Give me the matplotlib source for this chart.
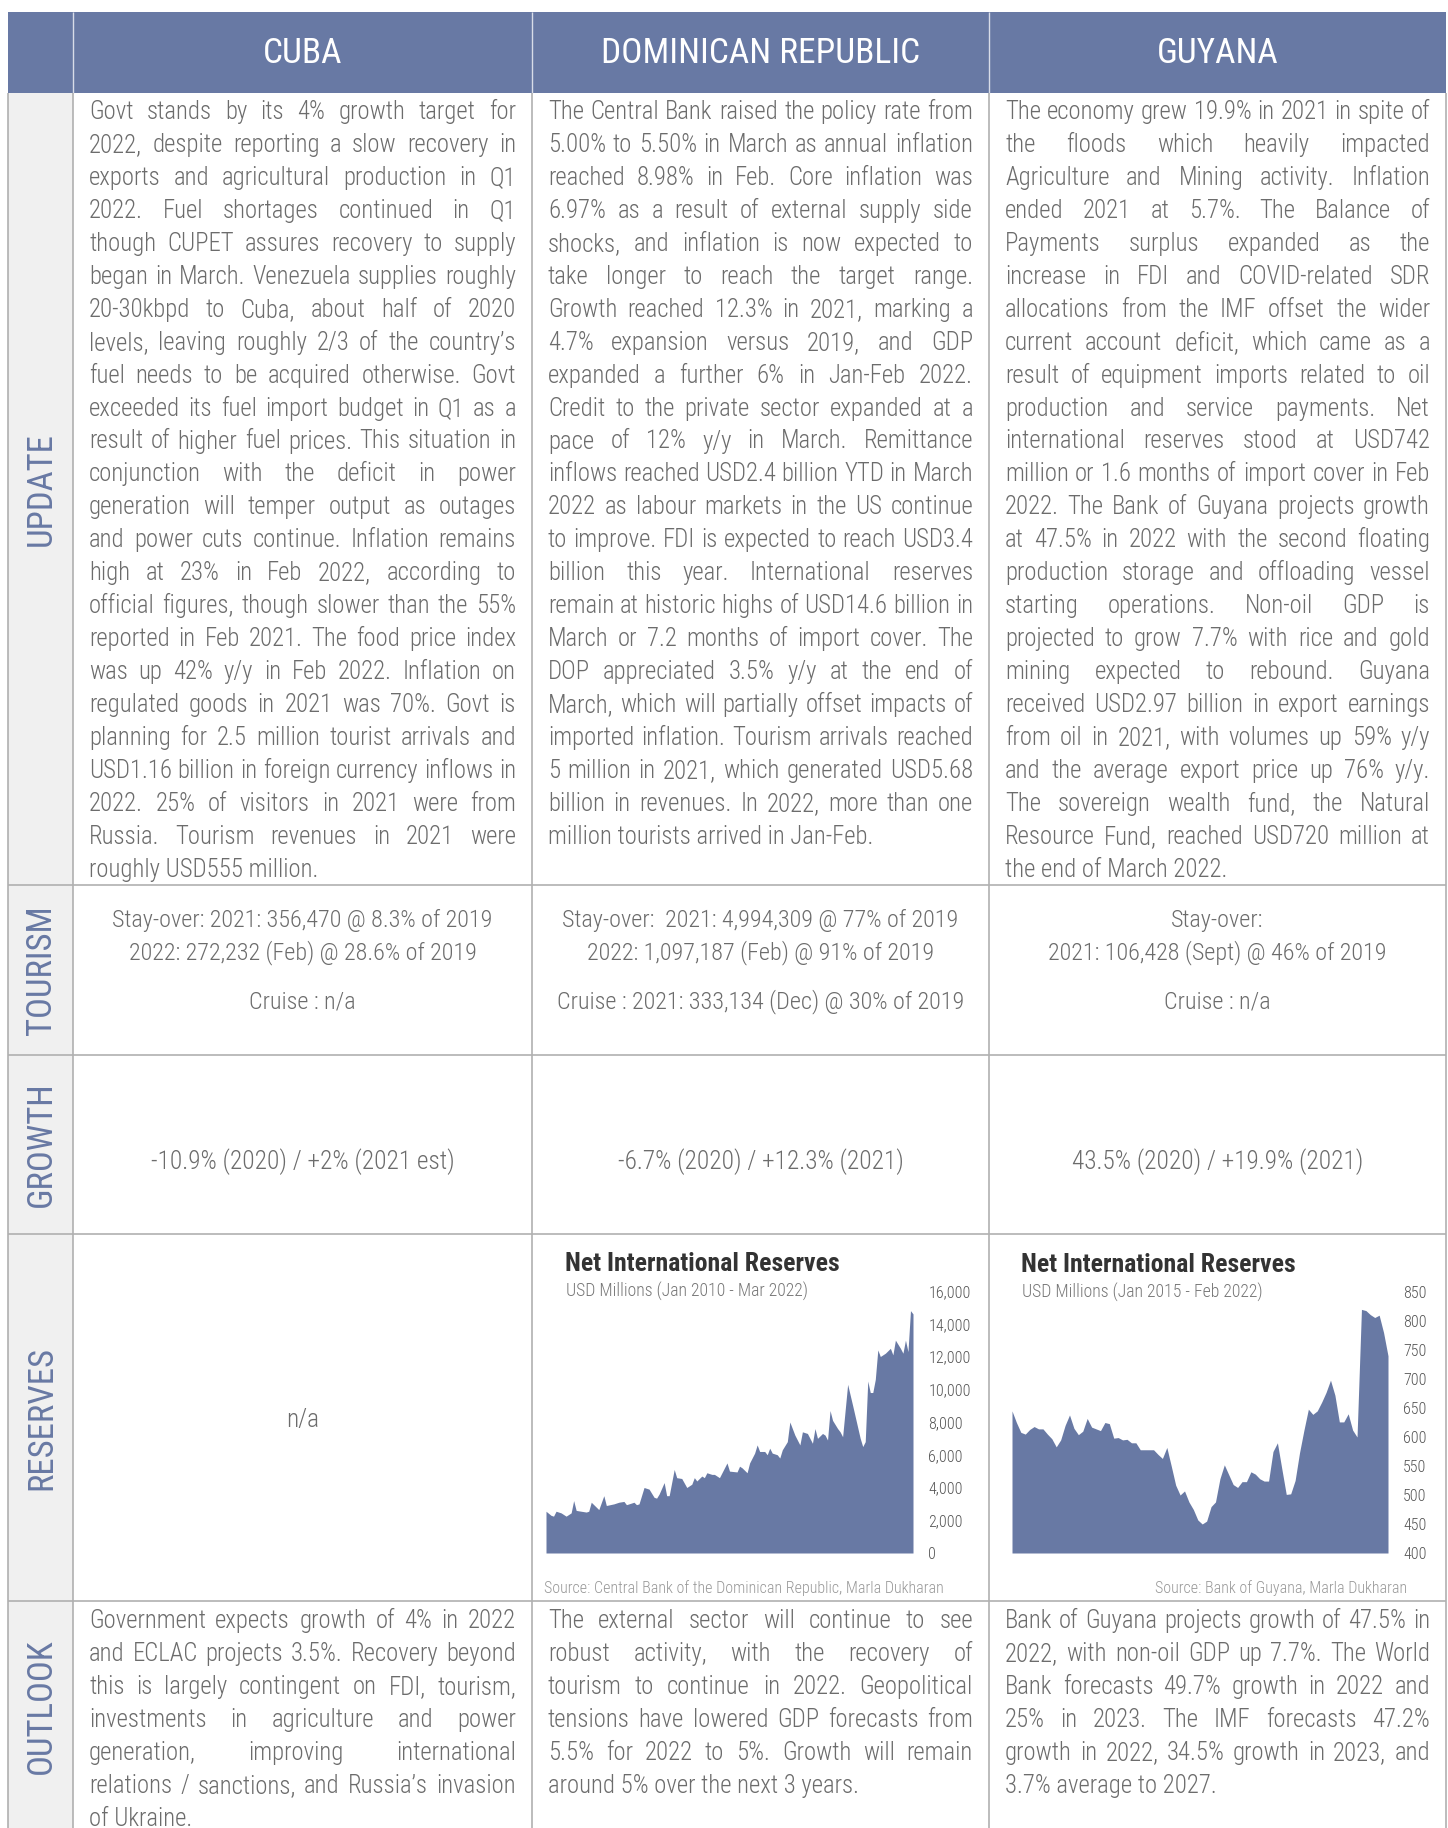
import matplotlib
matplotlib.use("Agg")
import matplotlib.pyplot as plt
from matplotlib.font_manager import FontProperties, fontManager
from matplotlib.patches import Rectangle

# ---- data ----
countries = ["CUBA", "DOMINICAN REPUBLIC", "GUYANA"]
row_labels = ["UPDATE", "TOURISM", "GROWTH", "RESERVES", "OUTLOOK"]

update_cuba = [
    "Govt stands by its 4% growth target for",
    "2022, despite reporting a slow recovery in",
    "exports and agricultural production in Q1",
    "2022. Fuel shortages continued in Q1",
    "though CUPET assures recovery to supply",
    "began in March. Venezuela supplies roughly",
    "20-30kbpd to Cuba, about half of 2020",
    "levels, leaving roughly 2/3 of the country’s",
    "fuel needs to be acquired otherwise. Govt",
    "exceeded its fuel import budget in Q1 as a",
    "result of higher fuel prices. This situation in",
    "conjunction with the deficit in power",
    "generation will temper output as outages",
    "and power cuts continue. Inflation remains",
    "high at 23% in Feb 2022, according to",
    "official figures, though slower than the 55%",
    "reported in Feb 2021. The food price index",
    "was up 42% y/y in Feb 2022. Inflation on",
    "regulated goods in 2021 was 70%. Govt is",
    "planning for 2.5 million tourist arrivals and",
    "USD1.16 billion in foreign currency inflows in",
    "2022. 25% of visitors in 2021 were from",
    "Russia. Tourism revenues in 2021 were",
    "roughly USD555 million.",
]
update_dr = [
    "The Central Bank raised the policy rate from",
    "5.00% to 5.50% in March as annual inflation",
    "reached 8.98% in Feb. Core inflation was",
    "6.97% as a result of external supply side",
    "shocks, and inflation is now expected to",
    "take longer to reach the target range.",
    "Growth reached 12.3% in 2021, marking a",
    "4.7% expansion versus 2019, and GDP",
    "expanded a further 6% in Jan-Feb 2022.",
    "Credit to the private sector expanded at a",
    "pace of 12% y/y in March. Remittance",
    "inflows reached USD2.4 billion YTD in March",
    "2022 as labour markets in the US continue",
    "to improve. FDI is expected to reach USD3.4",
    "billion this year. International reserves",
    "remain at historic highs of USD14.6 billion in",
    "March or 7.2 months of import cover. The",
    "DOP appreciated 3.5% y/y at the end of",
    "March, which will partially offset impacts of",
    "imported inflation. Tourism arrivals reached",
    "5 million in 2021, which generated USD5.68",
    "billion in revenues. In 2022, more than one",
    "million tourists arrived in Jan-Feb.",
]
update_guyana = [
    "The economy grew 19.9% in 2021 in spite of",
    "the floods which heavily impacted",
    "Agriculture and Mining activity. Inflation",
    "ended 2021 at 5.7%. The Balance of",
    "Payments surplus expanded as the",
    "increase in FDI and COVID-related SDR",
    "allocations from the IMF offset the wider",
    "current account deficit, which came as a",
    "result of equipment imports related to oil",
    "production and service payments. Net",
    "international reserves stood at USD742",
    "million or 1.6 months of import cover in Feb",
    "2022. The Bank of Guyana projects growth",
    "at 47.5% in 2022 with the second floating",
    "production storage and offloading vessel",
    "starting operations. Non-oil GDP is",
    "projected to grow 7.7% with rice and gold",
    "mining expected to rebound. Guyana",
    "received USD2.97 billion in export earnings",
    "from oil in 2021, with volumes up 59% y/y",
    "and the average export price up 76% y/y.",
    "The sovereign wealth fund, the Natural",
    "Resource Fund, reached USD720 million at",
    "the end of March 2022.",
]

tourism_cuba = ["Stay-over: 2021: 356,470 @ 8.3% of 2019",
                "2022: 272,232 (Feb) @ 28.6% of 2019", "Cruise : n/a"]
tourism_dr = ["Stay-over:  2021: 4,994,309 @ 77% of 2019",
              "2022: 1,097,187 (Feb) @ 91% of 2019",
              "Cruise : 2021: 333,134 (Dec) @ 30% of 2019"]
tourism_guyana = ["Stay-over:", "2021: 106,428 (Sept) @ 46% of 2019", "Cruise : n/a"]

growth = ["-10.9% (2020) / +2% (2021 est)",
          "-6.7% (2020) / +12.3% (2021)",
          "43.5% (2020) / +19.9% (2021)"]

outlook_cuba = [
    "Government expects growth of 4% in 2022",
    "and ECLAC projects 3.5%. Recovery beyond",
    "this is largely contingent on FDI, tourism,",
    "investments in agriculture and power",
    "generation, improving international",
    "relations / sanctions, and Russia’s invasion",
    "of Ukraine.",
]
outlook_dr = [
    "The external sector will continue to see",
    "robust activity, with the recovery of",
    "tourism to continue in 2022. Geopolitical",
    "tensions have lowered GDP forecasts from",
    "5.5% for 2022 to 5%. Growth will remain",
    "around 5% over the next 3 years.",
]
outlook_guyana = [
    "Bank of Guyana projects growth of 47.5% in",
    "2022, with non-oil GDP up 7.7%. The World",
    "Bank forecasts 49.7% growth in 2022 and",
    "25% in 2023. The IMF forecasts 47.2%",
    "growth in 2022, 34.5% growth in 2023, and",
    "3.7% average to 2027.",
]

# Dominican Republic net international reserves, USD mn (months since Jan 2010)
dr_month = [0, 2, 3, 4, 6, 8, 10, 11, 12, 16, 17, 18, 21, 23, 24, 27, 29, 31, 32, 35,
            36, 37, 39, 41, 43, 44, 45, 47, 48, 49, 51, 52, 54, 56, 58, 59, 60, 62, 63, 64,
            66, 67, 69, 70, 72, 73, 76, 77, 78, 80, 81, 83, 84, 85, 87, 88, 89, 90, 92, 93,
            94, 96, 97, 99, 101, 102, 104, 106, 107, 108, 110, 111, 112, 113, 114, 116, 117, 118, 120, 122,
            125, 126, 127, 128, 129, 130, 131, 132, 133, 135, 137, 138, 139, 141, 142, 143, 144, 145, 146]
dr_reserves = [2550, 2300, 2250, 2550, 2450, 2250, 2450, 3200, 2600, 2500, 2550, 3100, 2650, 3500, 2900, 3000, 3100, 3150, 2950, 3100,
               2950, 3000, 4000, 3900, 3400, 3350, 3600, 4300, 3500, 3500, 5100, 4600, 4550, 4000, 4200, 4600, 4400, 4700, 4600, 4900,
               4800, 4800, 4600, 4900, 5500, 5000, 4950, 5300, 5200, 4900, 5500, 6100, 6600, 6200, 6200, 6000, 6400, 6100, 6000, 5800,
               6300, 6800, 8000, 7200, 6600, 7400, 7300, 6700, 7600, 7000, 7300, 7200, 6900, 8700, 8100, 7600, 7400, 7100, 10300, 9000,
               7000, 6500, 6800, 10500, 9800, 9800, 10600, 12400, 12000, 12200, 12500, 12100, 13000, 12500, 12200, 13000, 12300, 14800, 14600]

# Guyana net international reserves, USD mn, monthly Jan 2015 - Feb 2022
guy_reserves = [645, 625, 608, 605, 613, 618, 614, 614, 605, 597, 583, 595, 620, 638, 615, 604, 610, 632, 617, 614,
                611, 625, 623, 598, 599, 595, 596, 590, 590, 578, 578, 578, 578, 570, 563, 582, 550, 517, 500, 507,
                488, 475, 457, 450, 455, 480, 488, 528, 552, 535, 518, 513, 523, 523, 540, 536, 528, 524, 524, 575,
                590, 545, 501, 502, 525, 573, 612, 648, 639, 645, 660, 677, 698, 672, 626, 626, 640, 612, 600, 820,
                818, 811, 806, 810, 780, 740]
guy_month = list(range(len(guy_reserves)))

dr_ticks = list(range(0, 16001, 2000))
guy_ticks = list(range(400, 851, 50))

# ---- style / layout ----
W, H = 1448, 1828
BLUE = "#6879a4"
GRID = "#b0b0b0"
TXT = "#6c6c6c"
LABEL_BG = "#f0f0f0"


# narrowest installed sans we can find
def pick_font():
    fonts = [(f.name, f.stretch) for f in fontManager.ttflist]
    for name in ["Roboto Condensed", "Liberation Sans Narrow", "Open Sans Condensed"]:
        if any(n == name for n, _ in fonts):
            return name, "normal"
    for name in ["DejaVu Sans", "Open Sans", "Noto Sans"]:
        if (name, "condensed") in fonts or (name, "semi-condensed") in fonts:
            st = "condensed" if (name, "condensed") in fonts else "semi-condensed"
            return name, st
    return "Roboto", "normal"


FAM, STRETCH = pick_font()
F = dict(family=FAM, fontstretch=STRETCH)

col_x = [8, 73, 532, 989, 1446]
row_y = [12, 93, 885, 1055, 1234, 1601, H]
pad = 16

fig = plt.figure(figsize=(W / 100, H / 100), dpi=100)
ax = fig.add_axes([0, 0, 1, 1])
ax.set_xlim(0, W)
ax.set_ylim(H, 0)
ax.axis("off")
renderer = fig.canvas.get_renderer()


def text_w(s, fp):
    return renderer.get_text_width_height_descent(s, fp, ismath=False)[0]


def body_font(size):
    return FontProperties(family=FAM, stretch=STRETCH, weight="light", size=size)


BODY = 17.8
avail = col_x[2] - col_x[1] - 2 * pad


def fit_size(lines, size=BODY):
    # shrink a block only if a line would not fit with a minimal word gap
    fp = body_font(size)
    sp = text_w("a a", fp) - text_w("aa", fp)
    s = 1.0
    for line in lines:
        words = line.split()
        need = sum(text_w(w, fp) for w in words) + 0.55 * sp * (len(words) - 1)
        s = min(s, avail / need)
    return size * s


# header and label column
ax.add_patch(Rectangle((col_x[0], row_y[0]), col_x[-1] - col_x[0], row_y[1] - row_y[0],
                       color=BLUE, lw=0))
ax.vlines(col_x[1:4], row_y[0], row_y[1], color="#d8dce8", lw=1)
ax.add_patch(Rectangle((col_x[0], row_y[1]), col_x[1] - col_x[0], H - row_y[1],
                       color=LABEL_BG, lw=0))
ax.vlines(col_x, row_y[1], H, color=GRID, lw=1.2)
ax.hlines(row_y[2:6], col_x[0], col_x[-1], color=GRID, lw=1.2)

centers = [(col_x[i + 1] + col_x[i + 2]) / 2 for i in range(3)]
for cx, name in zip(centers, countries):
    ax.text(cx, (row_y[0] + row_y[1]) / 2 + 1, name, ha="center", va="center",
            color="white", fontsize=25.5, **F)

for i, lab in enumerate(row_labels):
    cy = (row_y[i + 1] + row_y[i + 2]) / 2
    if lab == "OUTLOOK":
        cy = 1706
    ax.text((col_x[0] + col_x[1]) / 2 + 1, cy, lab, rotation=90, ha="center", va="center",
            color=BLUE, fontsize=25, **F)


def justified(lines, x0, x1, base, dy):
    fp = body_font(fit_size(lines))
    for k, line in enumerate(lines):
        y = base + k * dy
        words = line.split()
        if k == len(lines) - 1 or len(words) < 2:
            ax.text(x0, y, line, ha="left", va="baseline", color=TXT, fontproperties=fp)
            continue
        widths = [text_w(w, fp) for w in words]
        gap = (x1 - x0 - sum(widths)) / (len(words) - 1)
        x = x0
        for w, ww in zip(words, widths):
            ax.text(x, y, w, ha="left", va="baseline", color=TXT, fontproperties=fp)
            x += ww + gap


for i, lines in enumerate([update_cuba, update_dr, update_guyana]):
    justified(lines, col_x[i + 1] + pad, col_x[i + 2] - pad, 119, 32.95)
for i, lines in enumerate([outlook_cuba, outlook_dr, outlook_guyana]):
    justified(lines, col_x[i + 1] + pad, col_x[i + 2] - pad, 1628, 32.95)

for cx, lines in zip(centers, [tourism_cuba, tourism_dr, tourism_guyana]):
    fp = body_font(fit_size(lines, 17.4))
    for y, line in zip([927, 959, 1008], lines):
        ax.text(cx, y, line, ha="center", va="baseline", color=TXT, fontproperties=fp)

for cx, g in zip(centers, growth):
    ax.text(cx, 1169, g, ha="center", va="baseline", color=TXT, fontproperties=body_font(18.3))

ax.text(centers[0], 1427, "n/a", ha="center", va="baseline", color=TXT, fontproperties=body_font(18.3))


# ---- reserves charts ----
def chart(x, y, box, ylim, ticks, tick_pad):
    left, right, top, bottom = box
    a = fig.add_axes([left / W, 1 - bottom / H, (right - left) / W, (bottom - top) / H])
    a.fill_between(x, y, ylim[0], color=BLUE, lw=0)
    a.set_xlim(x[0], x[-1])
    a.set_ylim(*ylim)
    a.set_xticks([])
    a.yaxis.tick_right()
    a.set_yticks(ticks)
    a.set_yticklabels([f"{t:,}" for t in ticks], fontsize=11.5, color="#555555",
                      fontweight="light", **F)
    a.tick_params(axis="y", length=0, pad=tick_pad)
    for s in a.spines.values():
        s.set_visible(False)
    a.patch.set_visible(False)
    return a


chart(dr_month, dr_reserves, (546, 913, 1291, 1553), (0, 16000), dr_ticks, 11)
chart(guy_month, guy_reserves, (1012, 1388, 1292, 1553), (400, 850), guy_ticks, 11)

title_kw = dict(ha="left", va="center", color="#333333", fontsize=18.5, fontweight="bold", **F)
sub_kw = dict(ha="left", va="center", color="#777777", fontsize=12.8, fontweight="light", **F)
src_kw = dict(va="center", color="#999999", fontsize=11.5, fontweight="light", **F)

ax.text(565, 1264, "Net International Reserves", **title_kw)
ax.text(566, 1291, "USD Millions (Jan 2010 - Mar 2022)", **sub_kw)
ax.text(544, 1588, "Source: Central Bank of the Dominican Republic, Marla Dukharan", ha="left", **src_kw)

ax.text(1021, 1265, "Net International Reserves", **title_kw)
ax.text(1022, 1292, "USD Millions (Jan 2015 - Feb 2022)", **sub_kw)
ax.text(1407, 1588, "Source: Bank of Guyana, Marla Dukharan", ha="right", **src_kw)

fig.savefig("out.png", dpi=100)
